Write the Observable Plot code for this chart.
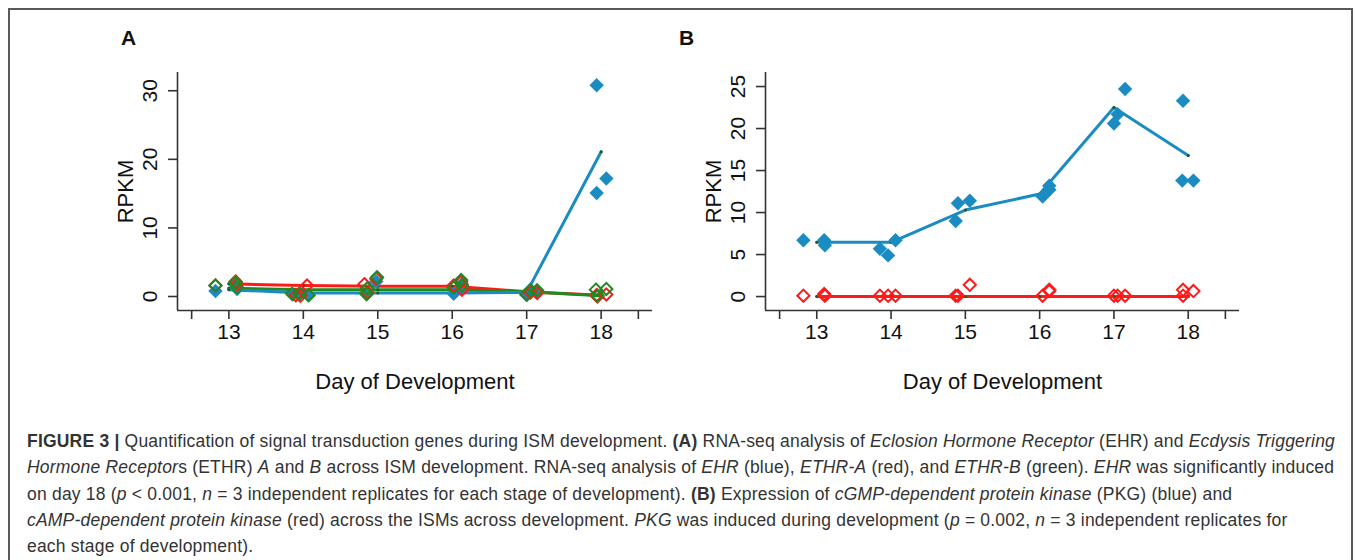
<!DOCTYPE html>
<html>
<head>
<meta charset="utf-8">
<script src="https://cdn.jsdelivr.net/npm/d3@7"></script>
<script src="https://cdn.jsdelivr.net/npm/@observablehq/plot@0.6"></script>
<style>
  html, body { margin: 0; padding: 0; background: #fff; width: 1357px; height: 560px; overflow: hidden; }
  #frame { position: absolute; left: 8px; top: 8px; width: 1345px; height: 640px; border: 2px solid #5a5a5a; box-sizing: border-box; }
  .panel { position: absolute; top: 0; }
  .plab { position: absolute; font-family: "Liberation Sans", Arial, sans-serif; font-weight: bold; font-size: 21px; color: #111; }
  #caption { position: absolute; left: 27px; top: 428px; font-family: "Liberation Sans", Arial, sans-serif; font-size: 17.5px; line-height: 26.3px; color: #333; }
  #caption div { white-space: nowrap; }
  #caption span.l { display: inline-block; }
</style>
</head>
<body>
<div id="frame"></div>
<div class="plab" style="left:121px; top:26px;">A</div>
<div class="plab" style="left:679px; top:26px;">B</div>
<div id="panelA" class="panel" style="left:0px;"></div>
<div id="panelB" class="panel" style="left:680px;"></div>
<div id="caption">
  <div><span class="l"><b>FIGURE 3 |</b> Quantification of signal transduction genes during ISM development. <b>(A)</b> RNA-seq analysis of <i>Eclosion Hormone Receptor</i> (EHR) and <i>Ecdysis Triggering</i></span></div>
  <div><span class="l"><i>Hormone Receptor</i>s (ETHR) <i>A</i> and <i>B</i> across ISM development. RNA-seq analysis of <i>EHR</i> (blue), <i>ETHR-A</i> (red), and <i>ETHR-B</i> (green). <i>EHR</i> was significantly induced</span></div>
  <div><span class="l">on day 18 (<i>p</i> &lt; 0.001, <i>n</i> = 3 independent replicates for each stage of development). <b>(B)</b> Expression of <i>cGMP-dependent protein kinase</i> (PKG) (blue) and</span></div>
  <div><span class="l"><i>cAMP-dependent protein kinase</i> (red) across the ISMs across development. <i>PKG</i> was induced during development (<i>p</i> = 0.002, <i>n</i> = 3 independent replicates for</span></div>
  <div><span class="l">each stage of development).</span></div>
</div>
<script>
// ---------- data ----------
const days = [13, 14, 15, 16, 17, 18];
const xTicks = [12.5, 13, 14, 15, 16, 17, 18, 18.5];
const yTicksA = [0, 10, 20, 30];
const yTicksB = [0, 5, 10, 15, 20, 25];

// Panel A: replicate points [day (jittered), RPKM]
const ehrPointsA = [[12.82,0.8],[13.09,1.6],[13.11,1.1],[13.86,0.3],[13.95,0.5],[14.07,0.2],[14.85,0.3],[14.86,0.6],[14.98,2.2],[16.02,0.4],[16.12,1.2],[16.13,1.8],[17.0,0.2],[17.05,1.0],[17.14,0.6],[17.94,30.8],[17.94,15.1],[18.07,17.2]];
const ethrAPointsA = [[12.82,1.6],[13.09,2.2],[13.11,1.8],[13.9,0.2],[13.96,0.1],[14.05,1.6],[14.82,1.8],[14.86,0.6],[14.98,2.6],[16.02,1.6],[16.12,2.1],[16.13,1.0],[17.0,0.3],[17.05,0.6],[17.14,0.5],[17.94,0.2],[17.95,0.0],[18.07,0.3]];
const ethrBPointsA = [[12.82,1.6],[13.09,2.0],[13.11,1.3],[13.85,0.4],[13.95,0.4],[14.07,0.2],[14.85,0.4],[14.86,1.2],[14.99,2.8],[16.02,1.3],[16.12,2.4],[16.13,1.6],[17.0,0.3],[17.05,0.9],[17.14,0.9],[17.93,1.0],[17.95,0.1],[18.07,1.1]];
// Panel A: fitted line values at each day
const ehrLineA = [1.0, 0.5, 0.5, 0.5, 0.6, 21.1];
const ethrALineA = [1.85, 1.6, 1.5, 1.5, 0.7, 0.2];
const ethrBLineA = [1.2, 1.0, 1.0, 1.0, 0.7, 0.1];

// Panel B
const pkgPointsB = [[12.82,6.7],[13.1,6.7],[13.11,6.1],[13.85,5.7],[13.96,4.9],[14.06,6.7],[14.87,9.0],[14.9,11.1],[15.06,11.4],[16.04,11.9],[16.13,12.7],[16.13,13.2],[17.0,20.6],[17.05,21.7],[17.15,24.7],[17.93,23.3],[17.92,13.8],[18.07,13.8]];
const pkaPointsB = [[12.82,0.1],[13.1,0.3],[13.11,0.1],[13.85,0.1],[13.96,0.1],[14.06,0.1],[14.87,0.1],[14.9,0.1],[15.06,1.4],[16.04,0.1],[16.13,0.8],[16.13,0.65],[17.0,0.1],[17.05,0.1],[17.15,0.1],[17.93,0.8],[17.93,0.1],[18.07,0.65]];
const pkgLineB = [6.45, 6.45, 10.3, 12.2, 22.5, 16.8];
const pkaLineB = [0, 0, 0, 0, 0, 0];

// ---------- styling ----------
const BLUE = "#1a8cc2", RED = "#ff1a1a", GREEN = "#1f8a1f", VERTEX = "#1d5a1d", AXIS = "#333";
const xDomain = [12.31, 18.69];

function lineMarks(vals, color) {
  const data = days.map((d, i) => ({day: d, v: vals[i]}));
  return [
    Plot.line(data, {x: "day", y: "v", stroke: color, strokeWidth: 3}),
    Plot.dot(data, {x: "day", y: "v", r: 1.5, fill: VERTEX, stroke: "none"})
  ];
}
function filled(pts, color) {
  return Plot.dot(pts, {x: d => d[0], y: d => d[1], symbol: "diamond2", r: 6.5, fill: color, stroke: "none"});
}
function open(pts, color) {
  return Plot.dot(pts, {x: d => d[0], y: d => d[1], symbol: "diamond2", r: 5.5, fill: "none", stroke: color, strokeWidth: 2});
}

function panel({yDomain, yTicks, width, marginLeft, marginRight, series}) {
  return Plot.plot({
    width, height: 400,
    marginTop: 72, marginBottom: 90, marginLeft, marginRight,
    x: {domain: xDomain},
    y: {domain: yDomain},
    style: {fontFamily: "'Liberation Sans', Arial, sans-serif", color: "#111", background: "transparent", overflow: "visible"},
    marks: [
      Plot.ruleX([xDomain[0]], {stroke: AXIS, strokeWidth: 1.6}),
      Plot.ruleY([yDomain[0]], {stroke: AXIS, strokeWidth: 1.6}),
      Plot.axisX({ticks: xTicks, tickSize: 9, tickPadding: 5, fontSize: 21, stroke: AXIS, strokeWidth: 1.6,
        tickFormat: d => Number.isInteger(d) ? String(d) : "", label: null}),
      Plot.axisY({ticks: yTicks, tickSize: 9, stroke: AXIS, strokeWidth: 1.6, tickFormat: () => "", label: null}),
      Plot.text(yTicks, {y: d => d, text: d => String(d), frameAnchor: "left", dx: -27, rotate: -90, fontSize: 21, lineAnchor: "middle", textAnchor: "middle"}),
      Plot.text(["RPKM"], {text: d => d, frameAnchor: "left", dx: -52, rotate: -90, fontSize: 22, lineAnchor: "middle", textAnchor: "middle"}),
      Plot.text(["Day of Development"], {text: d => d, frameAnchor: "bottom", dy: 71, fontSize: 22, lineAnchor: "middle"}),
      ...series
    ]
  });
}

const plotA = panel({
  yDomain: [-2.04, 32.66], yTicks: yTicksA, width: 680, marginLeft: 177, marginRight: 28,
  series: [
    ...lineMarks(ethrALineA, RED),
    ...lineMarks(ethrBLineA, GREEN),
    ...lineMarks(ehrLineA, BLUE),
    filled(ehrPointsA, BLUE),
    open(ethrAPointsA, RED),
    open(ethrBPointsA, GREEN)
  ]
});
document.getElementById("panelA").appendChild(plotA);

const plotB = panel({
  yDomain: [-1.66, 26.67], yTicks: yTicksB, width: 677, marginLeft: 85, marginRight: 118,
  series: [
    ...lineMarks(pkaLineB, RED),
    ...lineMarks(pkgLineB, BLUE),
    filled(pkgPointsB, BLUE),
    open(pkaPointsB, RED)
  ]
});
document.getElementById("panelB").appendChild(plotB);

// fit caption line 1 to the reference width
const spans = document.querySelectorAll("#caption span.l");
const first = spans[0];
const w = first.getBoundingClientRect().width;
const n = first.textContent.length;
const ls = (1308 - w) / n;
document.getElementById("caption").style.letterSpacing = ls + "px";
</script>
</body>
</html>
